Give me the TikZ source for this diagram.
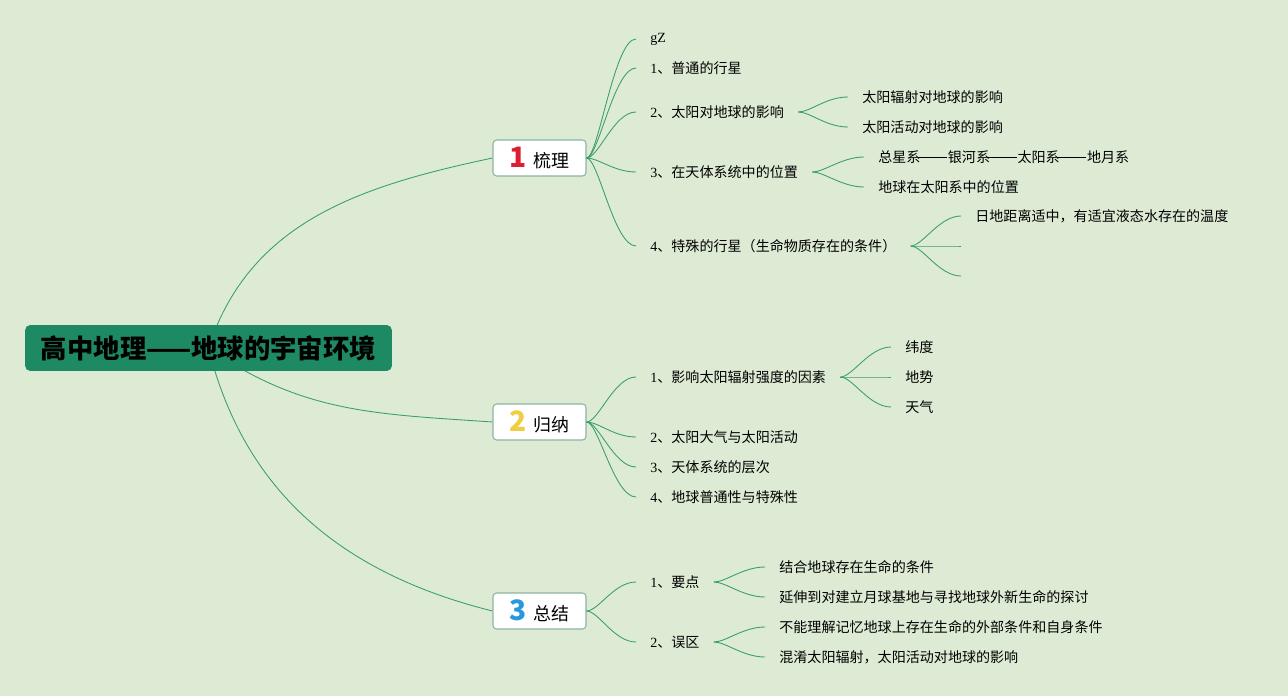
\documentclass[tikz,border=0pt]{standalone}
\usepackage{fontspec}
\setmainfont{Liberation Serif}
\newfontfamily\cjk{Noto Sans CJK SC}
\usetikzlibrary{backgrounds}
\definecolor{bgcol}{RGB}{221,235,213}
\definecolor{rootcol}{RGB}{30,138,100}
\definecolor{linkcol}{RGB}{60,158,108}
\definecolor{boxline}{RGB}{140,180,160}
\definecolor{numred}{RGB}{222,30,48}
\definecolor{numyel}{RGB}{240,206,64}
\definecolor{numblue}{RGB}{40,152,222}
\newcommand\lat[1]{{\rmfamily#1}}
\newcommand\longdash{\kern-0.2em\rule[0.36em]{2.1em}{0.05em}\kern0.05em}
\newcommand\topicnum[2]{{\color{#1}\fontsize{16}{16}\selectfont\bfseries#2}\hspace{4pt}}
\tikzset{
	root/.style={fill=rootcol,rounded corners=3pt,minimum width=7.34cm,minimum height=0.92cm,
		font=\cjk\bfseries\fontsize{15}{16}\selectfont,text=black},
	topic/.style={fill=white,draw=boxline,line width=0.6pt,rounded corners=2pt,minimum width=1.86cm,
		minimum height=0.72cm,font=\cjk\fontsize{10.2}{12}\selectfont},
	leaf/.style={anchor=west,inner xsep=0.28cm,inner ysep=1pt,font=\cjk\fontsize{8}{10}\selectfont},
	link/.style={draw=linkcol,line width=0.5pt}
}
\begin{document}
\begin{tikzpicture}[x=0.02cm,y=-0.02cm]
		\useasboundingbox (0,0) rectangle (1288,696);
		\node[root] (root) at (208.5,348) {高中地理——地球的宇宙环境};
		\node[topic] (t1) at (539.5,158) {\topicnum{numred}{1}梳理};
		\node[topic] (t2) at (539.5,422) {\topicnum{numyel}{2}归纳};
		\node[topic] (t3) at (539.5,611) {\topicnum{numblue}{3}总结};
		\node[leaf] (a0) at (636,39) {\lat{gZ}};
		\node[leaf] (a1) at (636,68) {\lat{1}、普通的行星};
		\node[leaf] (a2) at (636,112) {\lat{2}、太阳对地球的影响};
		\node[leaf] (a3) at (636,172) {\lat{3}、在天体系统中的位置};
		\node[leaf] (a4) at (636,246) {\lat{4}、特殊的行星（生命物质存在的条件）};
		\node[leaf] (a21) at (848,97) {太阳辐射对地球的影响};
		\node[leaf] (a22) at (848,127) {太阳活动对地球的影响};
		\node[leaf] (a31) at (864,157) {总星系\longdash 银河系\longdash 太阳系\longdash 地月系};
		\node[leaf] (a32) at (864,187) {地球在太阳系中的位置};
		\node[leaf] (a41) at (961,216) {日地距离适中，有适宜液态水存在的温度};
		\coordinate (a42) at (961,246);
		\coordinate (a43) at (961,276);
		\node[leaf] (b1) at (636,377) {\lat{1}、影响太阳辐射强度的因素};
		\node[leaf] (b2) at (636,437) {\lat{2}、太阳大气与太阳活动};
		\node[leaf] (b3) at (636,467) {\lat{3}、天体系统的层次};
		\node[leaf] (b4) at (636,497) {\lat{4}、地球普通性与特殊性};
		\node[leaf] (b11) at (891,347) {纬度};
		\node[leaf] (b12) at (891,377) {地势};
		\node[leaf] (b13) at (891,407) {天气};
		\node[leaf] (s1) at (636,582) {\lat{1}、要点};
		\node[leaf] (s2) at (636,642) {\lat{2}、误区};
		\node[leaf] (s11) at (765,567) {结合地球存在生命的条件};
		\node[leaf] (s12) at (765,597) {延伸到对建立月球基地与寻找地球外新生命的探讨};
		\node[leaf] (s21) at (765,627) {不能理解记忆地球上存在生命的外部条件和自身条件};
		\node[leaf] (s22) at (765,657) {混淆太阳辐射，太阳活动对地球的影响};
		\begin{scope}[on background layer]
		\fill[bgcol] (0,0) rectangle (1288,696);
		\draw[link] (root.center) to[out=72,in=192] (t1.west);
		\draw[link] (root.center) to[out=-35,in=176] (t2.west);
		\draw[link] (root.center) to[out=-76,in=166] (t3.west);
		\end{scope}
		\foreach \c in {a0,a1,a2,a3,a4}
			\draw[link] (t1.east) .. controls +(12,0) and +(-22,0) .. (\c.west);
		\foreach \c in {b1,b2,b3,b4}
			\draw[link] (t2.east) .. controls +(12,0) and +(-22,0) .. (\c.west);
		\foreach \c in {s1,s2}
			\draw[link] (t3.east) .. controls +(12,0) and +(-22,0) .. (\c.west);
		\foreach \c in {a21,a22}
			\draw[link] (a2.east) .. controls +(12,0) and +(-22,0) .. (\c.west);
		\foreach \c in {a31,a32}
			\draw[link] (a3.east) .. controls +(12,0) and +(-22,0) .. (\c.west);
		\draw[link] (a4.east) .. controls +(12,0) and +(-22,0) .. (a41.west);
		\foreach \c in {a42,a43}
			\draw[link] (a4.east) .. controls +(12,0) and +(-22,0) .. (\c);
		\foreach \c in {b11,b12,b13}
			\draw[link] (b1.east) .. controls +(12,0) and +(-22,0) .. (\c.west);
		\foreach \c in {s11,s12}
			\draw[link] (s1.east) .. controls +(12,0) and +(-22,0) .. (\c.west);
		\foreach \c in {s21,s22}
			\draw[link] (s2.east) .. controls +(12,0) and +(-22,0) .. (\c.west);
\end{tikzpicture}
\end{document}
